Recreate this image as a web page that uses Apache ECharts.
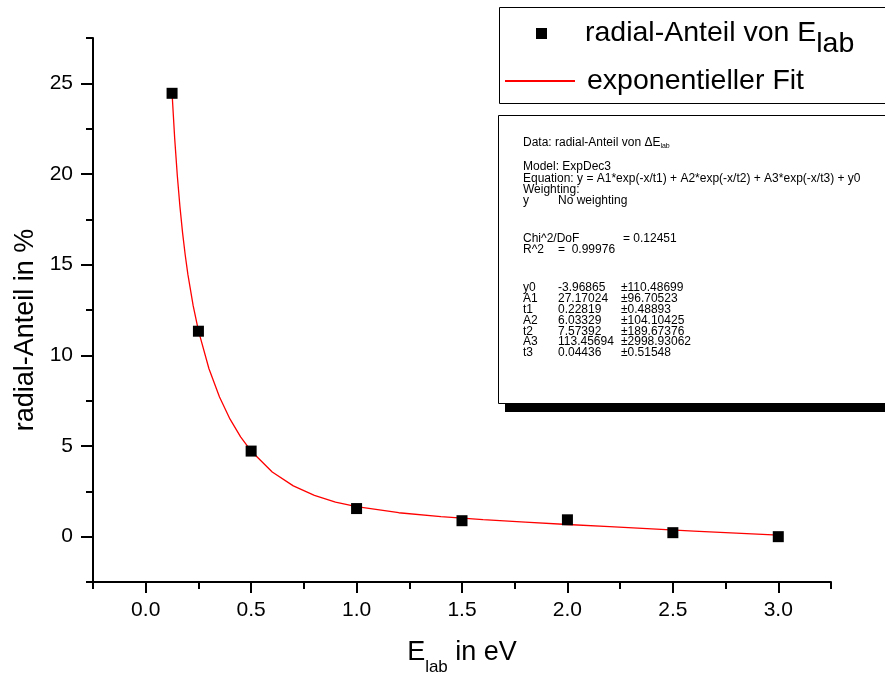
<!DOCTYPE html>
<html>
<head>
<meta charset="utf-8">
<script src="https://cdn.jsdelivr.net/npm/echarts@6/dist/echarts.min.js"></script>
<style>
  html, body { margin: 0; padding: 0; background: #fff; }
  #chart { width: 885px; height: 673px; }
</style>
</head>
<body>
<div id="chart"></div>
<script>
// Measured radial share of the lab energy
const energy = [0.125, 0.25, 0.5, 1.0, 1.5, 2.0, 2.5, 3.0];
const radialShare = [24.45, 11.33, 4.72, 1.55, 0.88, 0.93, 0.22, 0.0];

// Exponential fit curve (ExpDec3), sampled along the energy range
const fitEnergy = [0.125, 0.1375, 0.15, 0.1625, 0.175, 0.1875, 0.2, 0.225, 0.25, 0.3, 0.35, 0.4, 0.45, 0.5,
                   0.6, 0.7, 0.8, 0.9, 1.0, 1.2, 1.4, 1.6, 1.8, 2.0, 2.2, 2.4, 2.6, 2.8, 3.0];
const fitShare = [24.45, 21.94, 19.89, 18.18, 16.74, 15.52, 14.46, 12.74, 11.36, 9.26, 7.70, 6.48, 5.50, 4.72,
                  3.57, 2.80, 2.28, 1.91, 1.66, 1.32, 1.11, 0.94, 0.80, 0.67, 0.55, 0.43, 0.31, 0.20, 0.09];

// Axis ticks
const xMajorTicks = [0, 0.5, 1.0, 1.5, 2.0, 2.5, 3.0];
const xMinorTicks = [-0.25, 0.25, 0.75, 1.25, 1.75, 2.25, 2.75, 3.25];
const yMajorTicks = [0, 5, 10, 15, 20, 25];
const yMinorTicks = [-2.5, 2.5, 7.5, 12.5, 17.5, 22.5, 27.5];

// Series names
const pointsName = 'radial-Anteil von Elab';
const fitName = 'exponentieller Fit';

// Fit report lines (columns separated by tabs)
const reportLines = [
  'Data: radial-Anteil von {d|Δ}E{t|lab}',
  'Model: ExpDec3',
  'Equation: y = A1*exp(-x/t1) + A2*exp(-x/t2) + A3*exp(-x/t3) + y0',
  'Weighting:',
  'y\tNo weighting',
  'Chi^2/DoF\t\t= 0.12451',
  'R^2\t=  0.99976',
  'y0\t-3.96865\t±110.48699',
  'A1\t27.17024\t±96.70523',
  't1\t0.22819\t±0.48893',
  'A2\t6.03329\t±104.10425',
  't2\t7.57392\t±189.67376',
  'A3\t113.45694\t±2998.93062',
  't3\t0.04436\t±0.51548'
];

const FONT = '"Liberation Sans", Arial, Helvetica, sans-serif';
const chart = echarts.init(document.getElementById('chart'), null, { renderer: 'canvas' });

// layout of the fit report box
const boxX = 498, boxY = 115, boxH = 288;
const lineY = [143, 167, 179, 190, 201, 239, 250, 288, 299, 310, 321, 332, 342, 353];
const colX = [523, 558, 621];

const graphics = [
  // legend frame
  { type: 'rect', z: 10, shape: { x: 499.5, y: 7.5, width: 420, height: 96 },
    style: { fill: '#fff', stroke: '#000', lineWidth: 1 } },
  // report box shadow and frame
  { type: 'rect', z: 10, shape: { x: boxX + 7, y: boxY + 8, width: 420, height: boxH + 1 },
    style: { fill: '#000' } },
  { type: 'rect', z: 11, shape: { x: boxX + 0.5, y: boxY + 0.5, width: 420, height: boxH },
    style: { fill: '#fff', stroke: '#000', lineWidth: 1 } }
];

reportLines.forEach((line, i) => {
  const cells = line.split('\t');
  cells.forEach((cell, c) => {
    if (!cell) return;
    let x = colX[c];
    if (i === 5 && c === 2) x = 623;
    graphics.push({
      type: 'text', z: 12,
      style: {
        x: x, y: lineY[i], text: cell,
        fill: '#000', fontSize: 12, fontFamily: FONT, verticalAlign: 'middle',
        rich: {
          d: { fontSize: 12, fontFamily: FONT, fill: '#000', lineHeight: 14 },
          t: { fontSize: 7, fontFamily: FONT, fill: '#000', lineHeight: 8, padding: [6, 0, 0, 0] }
        }
      }
    });
  });
});

const axisLine = { show: true, onZero: false, lineStyle: { color: '#000', width: 2 } };
const hiddenLine = { show: false, onZero: false };

chart.setOption({
  backgroundColor: '#fff',
  animation: false,
  textStyle: { fontFamily: FONT },
  grid: { left: 93, right: 54, top: 38, bottom: 91, containLabel: false, outerBoundsMode: 'none' },
  legend: [
    {
      data: [pointsName], left: 536, top: 8, padding: 0, z: 20,
      itemWidth: 11, itemHeight: 11, icon: 'rect', selectedMode: false,
      formatter: () => '{n|radial-Anteil von E}{s|lab}',
      textStyle: {
        padding: [0, 0, 0, 33],
        rich: {
          n: { fontSize: 28.5, fontFamily: FONT, color: '#000', lineHeight: 30, padding: [11, 0, 11, 0] },
          s: { fontSize: 28.5, fontFamily: FONT, color: '#000', lineHeight: 30, padding: [22, 0, 0, 0] }
        }
      }
    },
    {
      data: [fitName], left: 505, top: 58, padding: 0, z: 20,
      itemWidth: 70, itemHeight: 2, icon: 'rect', selectedMode: false,
      textStyle: { fontSize: 28.5, fontFamily: FONT, color: '#000', lineHeight: 30, padding: [16, 0, 0, 7] }
    }
  ],
  xAxis: [
    {
      type: 'value', min: -0.25, max: 3.25, position: 'bottom',
      name: '{e|E}{s|lab}{e| in eV}', nameLocation: 'middle', nameGap: 56,
      nameTextStyle: {
        rich: {
          e: { fontSize: 27, fontFamily: FONT, color: '#000', lineHeight: 30, padding: [6, 0, 6, 0] },
          s: { fontSize: 17, fontFamily: FONT, color: '#000', lineHeight: 16, padding: [29, 0, 0, 0] }
        }
      },
      axisLine: axisLine,
      splitLine: { show: false },
      axisTick: { show: true, customValues: xMajorTicks, length: 11, lineStyle: { color: '#000', width: 2 } },
      axisLabel: { show: true, customValues: xMajorTicks, margin: 18, fontSize: 21, color: '#000',
                   fontFamily: FONT, formatter: v => v.toFixed(1) }
    },
    {
      type: 'value', min: -0.25, max: 3.25, position: 'bottom', offset: 0,
      axisLine: hiddenLine, splitLine: { show: false }, axisLabel: { show: false },
      axisTick: { show: true, customValues: xMinorTicks, length: 7, lineStyle: { color: '#000', width: 2 } }
    }
  ],
  yAxis: [
    {
      type: 'value', min: -2.5, max: 27.5, position: 'left',
      name: 'radial-Anteil in %', nameLocation: 'middle', nameGap: 53,
      nameTextStyle: { fontSize: 27, fontFamily: FONT, color: '#000', padding: [0, 40, 0, 0] },
      axisLine: axisLine,
      splitLine: { show: false },
      axisTick: { show: true, customValues: yMajorTicks, length: 12, lineStyle: { color: '#000', width: 2 } },
      axisLabel: { show: true, customValues: yMajorTicks, margin: 20, fontSize: 21, color: '#000', fontFamily: FONT }
    },
    {
      type: 'value', min: -2.5, max: 27.5, position: 'left', offset: 0,
      axisLine: hiddenLine, splitLine: { show: false }, axisLabel: { show: false },
      axisTick: { show: true, customValues: yMinorTicks, length: 7, lineStyle: { color: '#000', width: 2 } }
    }
  ],
  series: [
    {
      name: fitName, type: 'line', xAxisIndex: 0, yAxisIndex: 0,
      data: fitEnergy.map((x, i) => [x, fitShare[i]]),
      showSymbol: false, symbol: 'none', smooth: false, z: 2,
      lineStyle: { color: '#ff0000', width: 1.3 }, itemStyle: { color: '#ff0000' }
    },
    {
      name: pointsName, type: 'scatter', xAxisIndex: 0, yAxisIndex: 0,
      data: energy.map((x, i) => [x, radialShare[i]]),
      symbol: 'rect', symbolSize: 11, z: 3,
      itemStyle: { color: '#000', opacity: 1 }
    }
  ],
  graphic: graphics
});
</script>
</body>
</html>
